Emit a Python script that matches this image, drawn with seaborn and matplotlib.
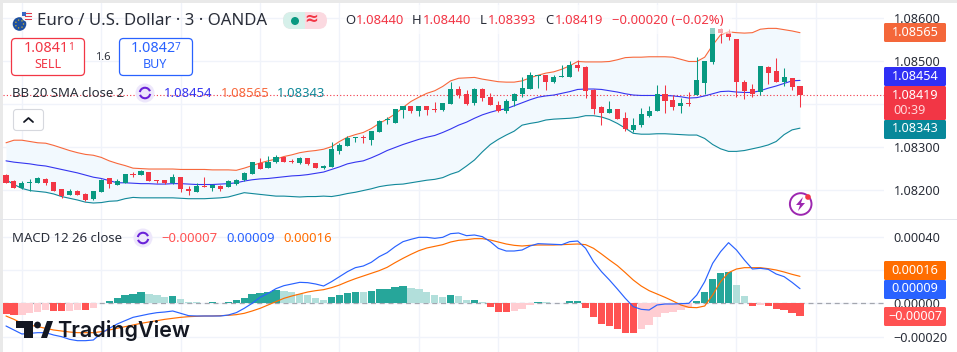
import numpy as np, pandas as pd
import matplotlib
matplotlib.use("Agg")
import matplotlib.pyplot as plt
from matplotlib.patches import FancyBboxPatch, Circle, Rectangle, Arc, Polygon
import seaborn as sns

# prices in 1e-5 units (1.08234 -> 108234)
opens_e5 = [108234,108219,108205,108216,108216,108225,108218,108201,108188,108197,108191,108178,108195,108226,108212,108216,108237,108235,108240,108222,
108222,108215,108229,108202,108195,108208,108205,108208,108207,108213,108222,108237,108263,108250,108264,108276,108267,108262,108273,108261,
108251,108253,108290,108302,108321,108322,108316,108335,108362,108356,108385,108395,108384,108395,108388,108385,108400,108434,108422,108402,
108435,108415,108396,108383,108406,108422,108434,108464,108467,108450,108462,108462,108490,108485,108432,108392,108379,108388,108367,108339,
108350,108371,108384,108422,108409,108395,108402,108420,108449,108497,108573,108565,108550,108450,108434,108426,108485,108476,108450,108460,108440]
highs_e5 = [108236,108223,108221,108224,108229,108227,108218,108202,108202,108199,108192,108197,108224,108227,108224,108236,108240,108246,108241,108223,
108222,108236,108229,108209,108215,108229,108213,108210,108223,108225,108240,108264,108274,108278,108281,108277,108271,108275,108274,108262,
108258,108311,108309,108325,108322,108326,108337,108362,108368,108388,108395,108395,108395,108395,108403,108402,108451,108441,108432,108436,
108436,108424,108406,108410,108424,108462,108474,108467,108467,108466,108491,108499,108501,108488,108433,108394,108406,108388,108381,108367,
108389,108395,108444,108443,108419,108414,108426,108508,108499,108575,108575,108573,108550,108454,108446,108488,108488,108506,108483,108460,108440]
lows_e5 = [108215,108203,108202,108198,108216,108212,108196,108181,108188,108188,108174,108177,108195,108205,108211,108216,108230,108234,108221,108215,
108214,108214,108195,108188,108195,108206,108196,108198,108206,108210,108220,108236,108248,108250,108263,108264,108263,108260,108258,108250,
108248,108253,108283,108302,108311,108308,108304,108334,108353,108355,108367,108378,108372,108374,108381,108384,108399,108412,108398,108397,
108407,108396,108381,108379,108395,108416,108433,108436,108432,108449,108462,108461,108476,108412,108377,108350,108378,108364,108337,108333,
108346,108368,108383,108379,108385,108379,108395,108419,108422,108493,108542,108548,108416,108411,108416,108420,108446,108450,108442,108432,108393]
closes_e5 = [108216,108205,108215,108218,108227,108216,108198,108185,108197,108188,108177,108196,108223,108214,108220,108236,108235,108243,108221,108220,
108215,108229,108202,108197,108208,108206,108212,108202,108219,108223,108238,108264,108249,108264,108276,108265,108265,108274,108260,108251,
108256,108295,108304,108320,108322,108319,108336,108360,108364,108387,108394,108384,108394,108385,108386,108401,108433,108419,108399,108434,
108412,108397,108383,108405,108422,108436,108466,108467,108450,108462,108464,108490,108483,108430,108388,108379,108388,108364,108340,108350,
108375,108382,108422,108407,108393,108401,108399,108455,108499,108575,108565,108556,108451,108429,108422,108488,108472,108451,108462,108439,108419]
bb_upper_e5 = [108309,108315,108315,108312,108309,108308,108303,108297,108291,108286,108282,108280,108275,108267,108261,108256,108250,108249,108248,108248,
108248,108248,108247,108247,108247,108247,108246,108246,108246,108245,108250,108256,108262,108267,108271,108277,108281,108286,108289,108291,
108294,108300,108312,108322,108328,108333,108342,108354,108364,108376,108391,108405,108415,108424,108430,108440,108453,108459,108460,108461,
108457,108454,108451,108450,108450,108453,108460,108466,108471,108474,108480,108488,108498,108497,108497,108497,108498,108502,108507,108508,
108508,108509,108509,108509,108508,108503,108498,108498,108508,108536,108560,108567,108565,108564,108565,108573,108575,108575,108572,108569,108565]
bb_basis_e5 = [108267,108264,108262,108260,108257,108255,108251,108247,108243,108239,108234,108229,108226,108221,108216,108216,108215,108214,108214,108213,
108213,108214,108214,108213,108212,108212,108212,108213,108214,108216,108220,108223,108225,108226,108228,108230,108232,108233,108235,108238,
108241,108247,108253,108260,108264,108267,108274,108282,108291,108298,108305,108311,108317,108322,108326,108333,108341,108350,108357,108366,
108374,108380,108385,108388,108395,108402,108409,108415,108418,108420,108424,108428,108433,108434,108434,108433,108430,108427,108423,108420,
108419,108419,108419,108419,108418,108416,108413,108414,108418,108423,108428,108429,108427,108426,108426,108430,108436,108441,108447,108453,108454]
bb_lower_e5 = [108223,108212,108203,108198,108196,108194,108190,108184,108180,108176,108171,108169,108170,108173,108174,108179,108182,108181,108181,108181,
108181,108181,108180,108179,108179,108179,108180,108181,108183,108188,108193,108191,108189,108187,108185,108185,108184,108183,108184,108184,
108185,108184,108187,108191,108194,108198,108202,108207,108210,108212,108213,108216,108219,108222,108224,108228,108236,108242,108255,108269,
108288,108305,108317,108327,108336,108350,108354,108357,108362,108364,108365,108366,108368,108372,108372,108369,108363,108354,108343,108331,
108329,108329,108330,108330,108329,108328,108327,108327,108319,108305,108295,108289,108289,108291,108295,108299,108304,108312,108328,108339,108343]
# MACD in 1e-6 units
hist_e6 = [-66,-70,-70,-56,-50,-40,-46,-46,-44,-40,-40,-26,4,12,30,50,54,68,56,50,38,44,26,8,8,2,8,2,8,20,32,54,62,66,80,74,68,58,50,32,
20,38,50,62,68,68,74,86,86,98,104,92,86,68,50,40,50,44,20,20,8,-20,-50,-50,-44,-32,-8,8,6,2,2,14,14,-26,-80,-122,-134,-152,-176,-176,
-152,-128,-80,-56,-50,-38,-26,16,68,146,182,188,110,44,-14,-8,-14,-32,-38,-56,-78]
hist_kind = list("rrpppprrpprp" "gggggg" "lll" "g" "llll" "g" "l" "ggggggg" "lllll"
                 "l" "gggg" "l" "ggggg" "lllll" "g" "ll" "g" "l" "rrr" "ppp" "g" "lll" "gg" "rrrrrrr"
                 "ppppppp" "ggggg" "ll" "r" "p" "rrrrr")
macd_e6 = [-136,-160,-184,-180,-176,-176,-190,-200,-216,-224,-224,-220,-180,-150,-124,-104,-84,-74,-64,-56,-52,-46,-60,-74,-76,-76,-76,-76,-70,-56,-30,0,36,60,88,106,116,126,124,116,
104,130,160,190,214,224,246,280,304,340,370,384,396,396,390,396,418,422,406,410,400,370,330,314,314,320,344,358,356,354,352,370,374,330,250,190,140,86,30,-20,
-36,-40,-10,-4,-4,-2,0,50,130,240,310,364,320,260,206,210,204,176,160,126,88]
signal_e6 = [-76,-96,-120,-130,-140,-150,-160,-166,-172,-176,-176,-176,-170,-160,-150,-140,-130,-120,-112,-104,-96,-90,-84,-80,-78,-76,-76,-74,-72,-68,-60,-46,-30,-10,10,30,44,56,68,76,
82,94,110,130,148,164,180,196,216,244,270,294,316,332,342,352,368,378,382,388,388,380,368,356,348,344,348,350,350,350,352,354,356,352,330,296,260,226,184,140,
104,76,56,36,14,-10,-24,-26,-16,50,130,184,206,214,214,214,208,200,188,174,162]

price_ticks = [1.086, 1.085, 1.084, 1.083, 1.082]
price_labels = ["1.08600", "1.08500", "", "1.08300", "1.08200"]
macd_ticks = [0.0004, 0.0002, 0.0, -0.0002]
macd_labels = ["0.00040", "", "0.00000", "\u22120.00020"]

UP, DOWN = "#089981", "#f23645"
DARK = "#2a2e39"
GRID = "#f0f3fa"
HIST_COLORS = {"g": "#26a69a", "l": "#b2dfdb", "r": "#ff5252", "p": "#ffcdd2"}

sns.set_theme(style="white")
plt.rcParams["font.family"] = ["Noto Sans", "DejaVu Sans"]

W, H = 957, 352
fig = plt.figure(figsize=(W / 100, H / 100), dpi=100, facecolor="white")

def box(l, t, r, b):
    return [l / W, 1 - b / H, (r - l) / W, (b - t) / H]

n = len(closes_e5)
idx = np.arange(n)
o, h, l, c = [np.array(a) / 1e5 for a in (opens_e5, highs_e5, lows_e5, closes_e5)]
up, mid, low = [np.array(a) / 1e5 for a in (bb_upper_e5, bb_basis_e5, bb_lower_e5)]
xlim = (-0.378, 110.58)
gticks = np.arange(2, 103, 10)

ax = fig.add_axes(box(3, 3, 884, 219))
ax2 = fig.add_axes(box(3, 220, 884, 352))

# price pane
ax.fill_between(idx, low, up, color="#f2f9fe", lw=0, zorder=1)
ax.axhline(c[-1], color=DOWN, ls=(0, (1, 2)), lw=0.8, zorder=2)
sns.lineplot(x=idx, y=up, color="#f7683c", lw=0.8, ax=ax, zorder=3)
sns.lineplot(x=idx, y=mid, color="#3535f0", lw=0.8, ax=ax, zorder=3)
sns.lineplot(x=idx, y=low, color="#12899a", lw=0.8, ax=ax, zorder=3)
cols = np.where(c >= o, UP, DOWN)
ax.vlines(idx, l, h, colors=cols, lw=0.75, zorder=4)
ax.bar(idx, np.maximum(np.abs(c - o), 1.2e-5), bottom=np.minimum(o, c), width=0.64, color=cols, lw=0, zorder=5)
ax.set_xlim(*xlim)
ax.set_ylim(1.081318, 1.08634)
ax.set_yticks(price_ticks, price_labels)

# MACD pane
df = pd.DataFrame({"i": idx, "hist": np.array(hist_e6) / 1e6, "kind": hist_kind})
ax2.axhline(0, color="#a3a6af", ls=(0, (4, 3)), lw=0.9, zorder=1)
ax2.bar(df["i"], df["hist"], width=0.92, color=df["kind"].map(HIST_COLORS), lw=0, zorder=2)
sns.lineplot(x=idx, y=np.array(signal_e6) / 1e6, color="#ff6d00", lw=0.85, ax=ax2, zorder=3)
sns.lineplot(x=idx, y=np.array(macd_e6) / 1e6, color="#2962ff", lw=0.85, ax=ax2, zorder=4)
ax2.set_xlim(*xlim)
ax2.set_ylim(-0.000292, 0.0005)
ax2.set_yticks(macd_ticks, macd_labels)

for a in (ax, ax2):
    a.set_xlabel(""); a.set_ylabel("")
    a.set_xticks(gticks, [""] * len(gticks))
    a.grid(True, color=GRID, lw=1.0, zorder=0)
    a.set_axisbelow(True)
    a.yaxis.tick_right()
    a.tick_params(axis="y", length=0, pad=7, labelsize=9.1, labelcolor=DARK)
    a.tick_params(axis="x", length=0)
    for s in a.spines.values():
        s.set_visible(False)

# overlay in pixel coordinates
ov = fig.add_axes([0, 0, 1, 1], zorder=10)
ov.set_xlim(0, W); ov.set_ylim(H, 0); ov.axis("off"); ov.patch.set_alpha(0)

ov.add_patch(Rectangle((0, 0), W, 3, color="#e9e9e9", lw=0))
ov.add_patch(Rectangle((0, 0), 3, H, color="#e9e9e9", lw=0))
ov.add_patch(Rectangle((0, 218.6), W, 1.2, color="#e4e6ec", lw=0))

def T(x, y, s, color=DARK, size=9.4, ha="left", va="center", **k):
    return ov.text(x, y, s, color=color, fontsize=size, ha=ha, va=va, **k)

def rbox(l, t, r, b, rad, fc, ec="none", lw=1.0, z=2):
    p = FancyBboxPatch((l + rad, t + rad), r - l - 2 * rad, b - t - 2 * rad,
                       boxstyle=f"round,pad={rad},rounding_size={rad}", fc=fc, ec=ec, lw=lw, zorder=z)
    ov.add_patch(p)

# header
rbox(340, 5, 732, 34, 2, (1, 1, 1, 0.55), z=1)
ov.add_patch(Circle((19.5, 24), 6.8, color="#1d4f9e", lw=0))
for a_ in np.linspace(0, 2 * np.pi, 8)[:-1]:
    ov.add_patch(Circle((19.5 + 4 * np.cos(a_), 24 + 4 * np.sin(a_)), 0.7, color="#d9b62b", lw=0))
ov.add_patch(Circle((27, 16), 5.5, color="#f4f4f6", lw=0))
for yy in (12.5, 15.5, 18.5):
    ov.add_patch(Rectangle((25, yy), 6.5, 1.2, color="#e2394b", lw=0))
ov.add_patch(Rectangle((22, 11.5), 4, 4, color="#3a66c4", lw=0))
T(37, 21, "Euro / U.S. Dollar \u00b7 3 \u00b7 OANDA", size=12.1)

rbox(283, 12, 327, 29, 8.5, "#fbd9e0")
rbox(283, 12, 303, 29, 8.5, "#d6f0ea", z=3)
ov.add_patch(Rectangle((294, 12), 11, 17, color="#d6f0ea", lw=0, zorder=3))
ov.add_patch(Circle((295, 21), 4, color=UP, lw=0, zorder=4))
T(311.5, 20, "\u2248", color=DOWN, size=12, ha="center", fontweight="bold", zorder=4)

ohlc = [(345, "O", DARK), (356, "1.08440", DOWN), (412, "H", DARK), (423, "1.08440", DOWN),
        (480, "L", DARK), (488, "1.08393", DOWN), (545, "C", DARK), (555, "1.08419", DOWN),
        (612, "\u22120.00020 (\u22120.02%)", DOWN)]
for x_, s_, c_ in ohlc:
    T(x_, 21, s_, color=c_, size=9.4)

# order boxes
rbox(11.5, 38.5, 84.5, 75.5, 4, "white", ec="#f23645", lw=0.9)
T(24, 49, "1.0841", color=DOWN, size=10.4)
T(68, 47, "1", color=DOWN, size=7.2)
T(48, 64, "SELL", color=DOWN, size=9, ha="center")
T(95, 57, "1.6", size=8)
rbox(119.5, 38.5, 192.5, 75.5, 4, "white", ec="#2962ff", lw=0.9)
T(131, 49, "1.0842", color="#2962ff", size=10.4)
T(175, 47, "7", color="#2962ff", size=7.2)
T(155, 64, "BUY", color="#2962ff", size=9, ha="center")

def refresh(cx, cy):
    ov.add_patch(Circle((cx, cy), 9.5, color="#ede7fb", lw=0))
    ov.add_patch(Arc((cx, cy), 10.5, 10.5, theta1=190, theta2=340, color="#6a22d8", lw=1.5))
    ov.add_patch(Arc((cx, cy), 10.5, 10.5, theta1=10, theta2=160, color="#6a22d8", lw=1.5))

T(12.5, 93.5, "BB 20 SMA close 2", size=9.5)
refresh(145, 93)
T(164, 93.5, "1.08454", color="#3535f0", size=9.4)
T(221, 93.5, "1.08565", color="#f7683c", size=9.4)
T(277, 93.5, "1.08343", color="#12899a", size=9.4)

rbox(13.5, 109.5, 43.5, 130.5, 3, "white", ec="#d6d8de", lw=0.8)
ov.plot([24, 28.5, 33], [122, 118, 122], color="#131722", lw=1.3, solid_capstyle="round")

T(12.5, 238, "MACD 12 26 close", size=9.5)
refresh(143, 238)
T(161, 238, "\u22120.00007", color="#ff5252", size=9.4)
T(226, 238, "0.00009", color="#2962ff", size=9.4)
T(283, 238, "0.00016", color="#ff6d00", size=9.4)

# price tags
def tag(top, bot, fc, s, rad=1.5):
    rbox(884, top, 946, bot, rad, fc, z=5)
    if s:
        T(915, (top + bot) / 2 - 0.5, s, color="white", size=9.1, ha="center", fontweight="medium", zorder=6)

tag(23, 42, "#f4673a", "1.08565")
tag(67, 86, "#2f2ff5", "1.08454")
tag(86, 120, "#f23645", "")
T(915, 95.5, "1.08419", color="white", size=9.1, ha="center", zorder=6)
T(893, 110, "00:39", color="#ffd5d9", size=9.1, zorder=6)
tag(120, 139, "#07889a", "1.08343")
tag(261, 280, "#ff6d00", "0.00016")
tag(280, 299, "#2962ff", "0.00009")
tag(307, 326, "#ff5252", "\u22120.00007")

# lightning icon
ov.add_patch(Circle((800.7, 204), 10.8, fc="none", ec="#9c27b0", lw=1.4))
ov.add_patch(Polygon([(803, 197), (796, 205), (800, 205), (798, 211), (805, 203), (801, 203)], color="#9c27b0", lw=0))
ov.add_patch(Circle((808, 197), 2.8, color="#f23645", lw=0))

# TradingView wordmark
K = "#131722"
ov.add_patch(Polygon([(16, 321), (33, 321), (33, 338), (24, 338), (24, 328), (16, 328)], color=K, lw=0))
ov.add_patch(Circle((37.5, 325), 3.4, color=K, lw=0))
ov.add_patch(Polygon([(41, 338), (47, 321), (53, 321), (47, 338)], color=K, lw=0))
T(57, 330.5, "TradingView", color=K, size=15.5, fontweight="semibold", family="Inter")

fig.savefig("out.png", dpi=100)
